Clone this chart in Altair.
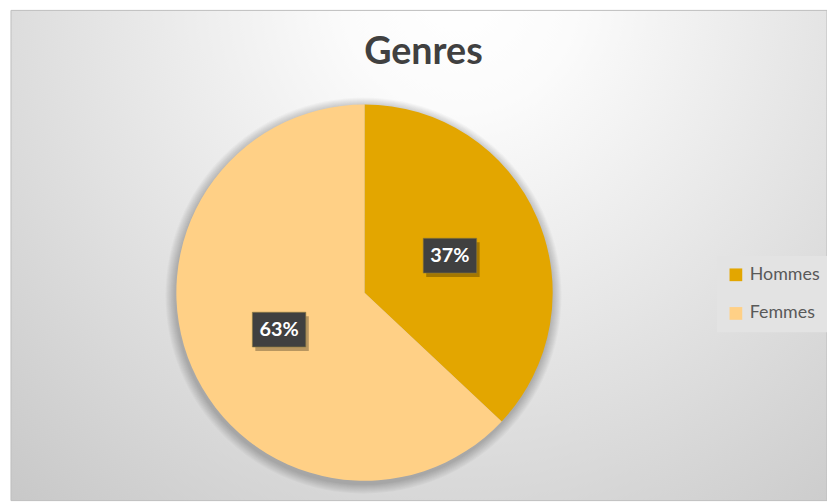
import altair as alt
import pandas as pd

# ---- data ----
genres = ["Hommes", "Femmes"]
parts = [37, 63]
colors = ["#E3A600", "#FFD086"]
title_text = "Genres"

# ---- layout (pixels, view coordinates) ----
W, H = 827, 495
CX, CY, R = 360, 285, 190
LR = 94

df = pd.DataFrame({"genre": genres, "part": parts, "idx": list(range(len(genres)))})
one = pd.DataFrame({"a": [0]})

bg = alt.Chart(one).mark_rect(
    fill={
        "gradient": "radial",
        "x1": 0.55, "y1": 0.18, "r1": 0,
        "x2": 0.55, "y2": 0.18, "r2": 0.95,
        "stops": [
            {"offset": 0, "color": "#ffffff"},
            {"offset": 0.15, "color": "#fbfbfb"},
            {"offset": 1, "color": "#bfbfbf"},
        ],
    },
    stroke="#bdbdbd",
    strokeWidth=1,
).encode(x=alt.value(3), x2=alt.value(W), y=alt.value(0), y2=alt.value(H))

shadows = [
    alt.Chart(one).mark_arc(theta=0, theta2=6.2832, outerRadius=R + k, color="#000000", opacity=0.025)
    .encode(x=alt.value(CX - 1), y=alt.value(CY + 3))
    for k in range(1, 11)
]

pie = alt.Chart(df).mark_arc(outerRadius=R).encode(
    theta=alt.Theta("part:Q", stack=True),
    order=alt.Order("idx:Q"),
    color=alt.Color(
        "genre:N",
        sort=genres,
        scale=alt.Scale(domain=genres, range=colors),
        legend=alt.Legend(
            title=None,
            orient="none",
            legendX=716,
            legendY=248,
            symbolType="square",
            symbolSize=165,
            symbolStrokeWidth=0,
            labelFont="Lato",
            labelFontSize=18,
            labelColor="#595959",
            rowPadding=21,
            padding=10,
            fillColor="#e3e3e3",
            labelOffset=5,
        ),
    ),
    x=alt.value(CX),
    y=alt.value(CY),
)

lab = alt.Chart(df).transform_joinaggregate(
    total="sum(part)"
).transform_window(
    cum="sum(part)", sort=[alt.SortField("idx")], frame=[None, 0]
).transform_calculate(
    mid="(datum.cum - datum.part / 2) / datum.total * 2 * PI",
    px=f"{CX} + {LR} * sin(datum.mid)",
    py=f"{CY} - {LR} * cos(datum.mid)",
    label="format(datum.part / datum.total, '.0%')",
)

box_shape = "M-1,-0.65H1V0.65H-1Z"
box_shadow = lab.mark_point(shape=box_shape, size=2916, filled=True, color="#000000", opacity=0.28, xOffset=3, yOffset=4).encode(
    x=alt.X("px:Q", scale=None), y=alt.Y("py:Q", scale=None)
)
box = lab.mark_point(shape=box_shape, size=2916, filled=True, color="#404040", opacity=1, stroke="#8a7a40", strokeWidth=0.6).encode(
    x=alt.X("px:Q", scale=None), y=alt.Y("py:Q", scale=None)
)
txt = lab.mark_text(font="Lato", fontWeight="bold", fontSize=20, color="#ffffff", baseline="middle", align="center").encode(
    x=alt.X("px:Q", scale=None), y=alt.Y("py:Q", scale=None), text="label:N"
)

chart = alt.layer(bg, *shadows, pie, box_shadow, box, txt).properties(
    width=W,
    height=H,
    padding=0,
    autosize=alt.AutoSizeParams(type="none"),
    title=alt.TitleParams(
        title_text,
        font="Lato",
        fontSize=38,
        fontWeight="bold",
        color="#404040",
        anchor="middle",
        offset=0,
        dy=63,
        dx=6,
    ),
).configure_view(stroke=None)

chart.save("out.html", embed_options={"renderer": "svg", "actions": False})
